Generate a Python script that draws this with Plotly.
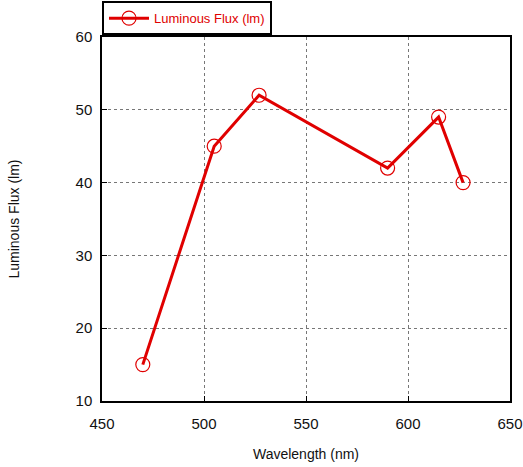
import plotly.graph_objects as go

# Measured luminous flux per LED peak wavelength
wavelength_nm = [470, 505, 527, 590, 615, 627]
luminous_flux_lm = [15, 45, 52, 42, 49, 40]

x_ticks = [450, 500, 550, 600, 650]
y_ticks = [10, 20, 30, 40, 50, 60]

RED = "#e00000"
FONT = "Liberation Sans, Arial, sans-serif"

fig = go.Figure()
fig.add_trace(go.Scatter(
    x=wavelength_nm,
    y=luminous_flux_lm,
    mode="lines+markers",
    name="Luminous Flux (lm)",
    line=dict(color=RED, width=3),
    marker=dict(symbol="circle-open", size=14, color=RED, line=dict(width=1.2, color=RED)),
))

axis_common = dict(
    showgrid=True,
    gridcolor="#777777",
    griddash="dot",
    gridwidth=1,
    showline=True,
    linecolor="black",
    linewidth=1.5,
    mirror=True,
    ticks="inside",
    ticklen=5,
    tickcolor="black",
    zeroline=False,
    automargin=False,
    tickfont=dict(family=FONT, size=15, color="#111111"),
)

fig.update_xaxes(
    range=[450, 650],
    tickvals=x_ticks,
    ticklabelstandoff=8,
    title=dict(text="Wavelength (nm)", font=dict(family=FONT, size=14, color="#111111"), standoff=18),
    **axis_common,
)
fig.update_yaxes(
    range=[10, 60],
    tickvals=y_ticks,
    ticklabelstandoff=5,
    title=dict(text="Luminous Flux (lm)", font=dict(family=FONT, size=14, color="#111111"), standoff=53),
    **axis_common,
)

fig.update_layout(
    width=523,
    height=467,
    margin=dict(l=102, r=13, t=37, b=66, autoexpand=False),
    paper_bgcolor="white",
    plot_bgcolor="white",
    showlegend=True,
    legend=dict(
        x=0,
        y=1.005,
        xanchor="left",
        yanchor="bottom",
        bordercolor="black",
        borderwidth=2,
        bgcolor="white",
        font=dict(family=FONT, size=13, color=RED),
        itemwidth=40,
        tracegroupgap=0,
    ),
)

fig.write_html("out.html")
